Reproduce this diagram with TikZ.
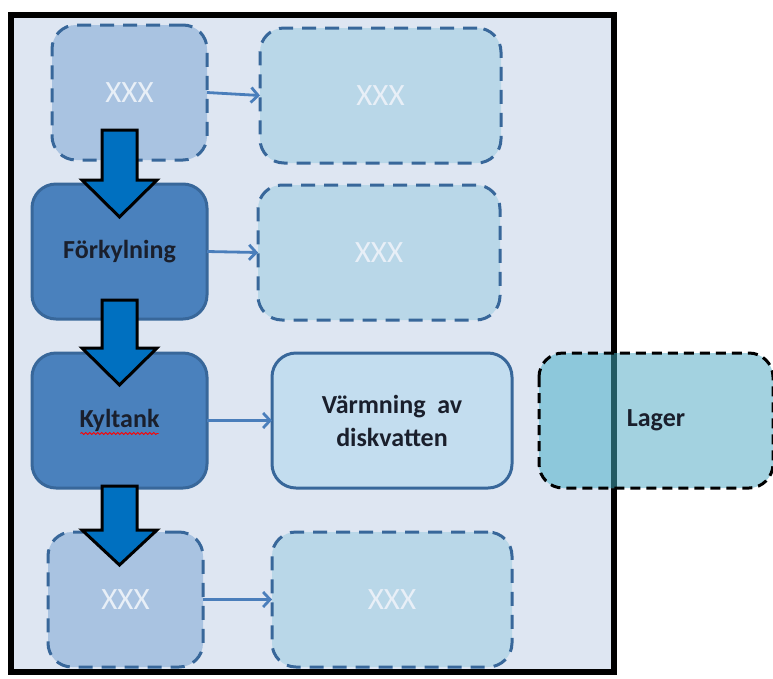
\documentclass[tikz,border=0pt]{standalone}
\usepackage{fontspec}
\setmainfont{Carlito}
\usetikzlibrary{arrows.meta}
\usetikzlibrary{calc}
\usetikzlibrary{decorations.pathmorphing}

\definecolor{framebg}{HTML}{DEE6F2}
\definecolor{boxedge}{HTML}{38679A}
\definecolor{pale}{HTML}{A9C3E1}
\definecolor{paler}{HTML}{B9D7E8}
\definecolor{stage}{HTML}{4A81BD}
\definecolor{warm}{HTML}{C3DDEF}
\definecolor{flow}{HTML}{0070C0}
\definecolor{linkblue}{HTML}{4A7EBB}
\definecolor{lagerout}{HTML}{A3D2E0}
\definecolor{lagerin}{HTML}{8DC8DB}
\definecolor{lagerline}{HTML}{225A63}
\definecolor{ghost}{HTML}{E8EFF7}
\definecolor{ink}{HTML}{1A1F2C}

\tikzset{
  box/.style={rectangle, rounded corners=24pt, minimum height=135pt, outer sep=0pt,
    inner sep=0pt, line width=3pt},
  ghostbox/.style={box, draw=boxedge, dash pattern=on 14pt off 9pt, text=ghost,
    font=\fontsize{31}{31}\selectfont},
  stagebox/.style={box, draw=boxedge, fill=stage, minimum width=175pt, text=ink,
    font=\bfseries\fontsize{26}{26}\selectfont},
  conn/.style={draw=linkblue, line width=2.8pt, -{Straight Barb[length=7pt,width=15pt]}},
  bigarrow/.style={fill=flow, draw=black, line width=3pt, line join=miter},
  spell/.style={red, line width=0.9pt, decorate,
    decoration={snake, amplitude=1pt, segment length=4pt}}
}

\begin{document}
\begin{tikzpicture}[x=1pt,y=-1pt]
  \useasboundingbox (0,0) rectangle (773,678);
  % frame
  \fill[framebg] (11,15) rectangle (614,672);
  \draw[line width=6.5pt] (11,15) rectangle (614,672);
  \coordinate (fr) at (614,0);

  % boxes
  \node[ghostbox, fill=pale, minimum width=155pt] (xa) at (129.5,92.5) {XXX};
  \node[ghostbox, fill=paler, minimum width=241pt] (xb) at (380.5,95.5) {XXX};
  \node[stagebox] (fork) at (119.5,251.5) {Förkylning};
  \node[ghostbox, fill=paler, minimum width=242pt] (xc) at (379,252.5) {XXX};
  \node[stagebox] (kyl) at (119.5,420.5) {Kyltank};
  \node[box, draw=boxedge, fill=warm, minimum width=240pt, align=center, text=ink,
    font=\bfseries\fontsize{26}{33}\selectfont] (varm) at (392,420.5) {Värmning\ \ av\\diskvatten};
  \node[ghostbox, fill=pale, minimum width=155pt] (xd) at (125.5,599.5) {XXX};
  \node[ghostbox, fill=paler, minimum width=240pt] (xe) at (392,599.5) {XXX};

  % lager, over the frame edge
  \node[box, fill=lagerout, minimum width=234pt, text=ink,
    font=\bfseries\fontsize{26}{26}\selectfont] (lager) at (656,420.5) {Lager};
  \begin{scope}
    \clip (11,15) rectangle (611,672);
    \fill[lagerin, rounded corners=24pt] (lager.north west) rectangle (lager.south east);
  \end{scope}
  \draw[lagerline, line width=6.5pt] (lager.north -| fr) -- (lager.south -| fr);
  \draw[black, line width=3pt, dash pattern=on 10pt off 6pt, rounded corners=24pt]
    (lager.north west) rectangle (lager.south east);

  % connectors
  \draw[conn] (xa.east) -- (xb.west);
  \draw[conn] (fork.east) -- (xc.west);
  \draw[conn] (kyl.east) -- (varm.west);
  \draw[conn] (xd.east) -- (xe.west);

  % big arrows
  \foreach \top/\base/\tip in {130/180/217, 300/348/385, 486/530/565}
    \draw[bigarrow] (102,\top) -- (137,\top) -- (137,\base) -- (157,\base)
      -- (119.5,\tip) -- (82,\base) -- (102,\base) -- cycle;

  \draw[spell] ($(kyl.center)+(-39,13)$) -- ++(78,0);
\end{tikzpicture}
\end{document}
